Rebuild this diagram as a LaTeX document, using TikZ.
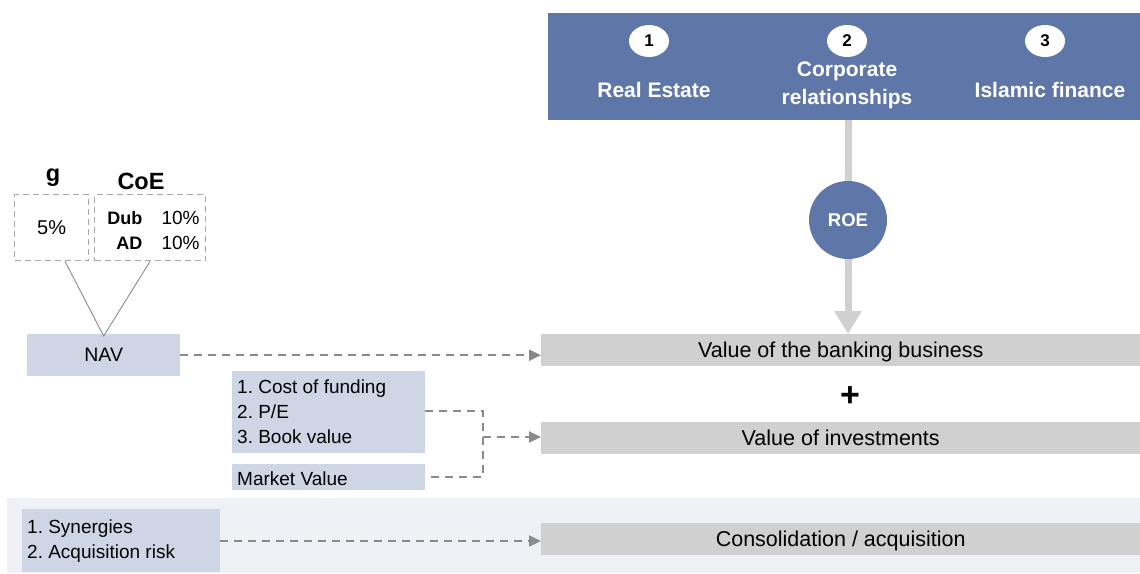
\documentclass[tikz,border=0pt]{standalone}
\usepackage{fontspec}
\setmainfont{Liberation Sans}
\frenchspacing
\usetikzlibrary{arrows.meta,calc,positioning,shapes.geometric}
\definecolor{bandblue}{HTML}{5F76A9}
\definecolor{valgray}{HTML}{D0D0D0}
\definecolor{inblue}{HTML}{CED6E6}
\definecolor{paleband}{HTML}{EEF0F6}
\definecolor{dashgray}{HTML}{8A8A8A}
\definecolor{boxgray}{HTML}{A8A8A8}
\begin{document}
\begin{tikzpicture}[x=1pt,y=-1pt,
  valuebox/.style={fill=valgray,draw=none,inner sep=0pt,minimum width=599pt,minimum height=32pt,font=\fontsize{21.5}{24}\selectfont,anchor=north west,text depth=1pt},
  inputbox/.style={fill=inblue,draw=none,inner sep=0pt,anchor=north west,font=\fontsize{19.5}{24}\selectfont},
  flowarrow/.style={draw=dashgray,line width=2pt,dash pattern=on 8pt off 6pt,-{Triangle[length=12pt,width=11pt]}},
  flowline/.style={draw=dashgray,line width=2pt,dash pattern=on 8pt off 6pt},
  numdot/.style={ellipse,fill=white,minimum width=40pt,minimum height=32pt,inner sep=0pt,font=\bfseries\fontsize{17}{20}\selectfont},
  bandlabel/.style={text=white,font=\bfseries\fontsize{21}{28}\selectfont,align=center},
  parambox/.style={draw=boxgray,line width=1.4pt,dash pattern=on 6pt off 4pt,inner sep=0pt,anchor=north west,minimum height=66pt},
  listtext/.style={anchor=north west,inner sep=0pt,align=left,font=\fontsize{19}{25}\selectfont}
]
\useasboundingbox (0,0) rectangle (1140,573);

% pale band behind the consolidation row
\fill[paleband] (7,498) rectangle (1140,573);

% top band with the three business lines
\node[fill=bandblue,inner sep=0pt,minimum width=592pt,minimum height=107pt,anchor=north west] (band) at (548,13) {};
\node[numdot] (n1) at (649,41) {1};
\node[numdot] (n2) at (847,41) {2};
\node[numdot] (n3) at (1045,41) {3};
\node[bandlabel] (re) at (654,90) {Real Estate};
\node[bandlabel] (cr) at (847,85) {Corporate\\relationships};
\node[bandlabel] (isl) at (1050,90) {Islamic finance};

% value rows
\node[valuebox] (vbank) at (541,334) {Value of the banking business};
\node[font=\bfseries\fontsize{34}{34}\selectfont] (plus) at (850,397) {+};
\node[valuebox] (vinv) at (541,422) {Value of investments};
\node[valuebox] (vcons) at (541,523) {Consolidation / acquisition};

% ROE flow from the business lines into the banking value
\coordinate (roebot) at (848,334);
\draw[draw=valgray,line width=7pt,-{Triangle[length=23pt,width=26pt]}] (band.south -| roebot) -- (roebot);
\node[circle,fill=bandblue,minimum size=78pt,inner sep=0pt,text=white,font=\bfseries\fontsize{18.5}{20}\selectfont] (roe) at (848,220) {ROE};

% parameters feeding NAV
\node[parambox,minimum width=74pt] (gbox) at (14,194) {};
\node[font=\fontsize{20}{22}\selectfont] (gval) at (gbox.center) {5\%};
\node[parambox,minimum width=111pt] (coebox) at (94,194) {};
\node[font=\bfseries\fontsize{18}{20}\selectfont,anchor=east] (dub) at (146,218) {Dub};
\node[font=\fontsize{19}{20}\selectfont,anchor=west] (dubv) at (158,218) {10\%};
\node[font=\bfseries\fontsize{18}{20}\selectfont,anchor=east] (ad) at (146,243) {AD};
\node[font=\fontsize{19}{20}\selectfont,anchor=west] (adv) at (158,243) {10\%};
\node[font=\bfseries\fontsize{23.5}{26}\selectfont] (glab) at (53,178) {g};
\node[font=\bfseries\fontsize{23.5}{26}\selectfont] (coelab) at (141,181) {CoE};

\node[inputbox,minimum width=153pt,minimum height=42pt] (nav) at (27,334) {NAV};
\coordinate (apex) at ($(nav.north)+(0,2)$);
\draw[gray,line width=0.8pt] ($(gbox.south west)+(51,0)$) -- (apex) -- ($(coebox.south west)+(56,0)$);

% inputs for the value of investments
\node[inputbox,minimum width=193pt,minimum height=82pt] (valmeth) at (232,371) {};
\node[listtext] (valtxt) at (237,380) {1. Cost of funding\\2. P/E\\3. Book value};
\node[inputbox,minimum width=193pt,minimum height=26pt] (mkt) at (232,464) {};
\node[anchor=west,inner sep=0pt,font=\fontsize{19}{20}\selectfont] (mkttxt) at (237,479) {Market Value};

% consolidation inputs
\node[inputbox,minimum width=198pt,minimum height=63pt] (syn) at (22,509) {};
\node[listtext] (syntxt) at (27,520) {1. Synergies\\2. Acquisition risk};

% dashed connectors
\draw[flowarrow] (nav.east) -- (nav.east -| vbank.west);
\coordinate (join) at (483,437);
\draw[flowline] (valmeth.east |- 0,411) -| (join) |- (mkt.east);
\draw[flowarrow] (join) -- (join -| vinv.west);
\draw[flowarrow] (syn.east |- 0,541) -- (vcons.west |- 0,541);
\end{tikzpicture}
\end{document}
